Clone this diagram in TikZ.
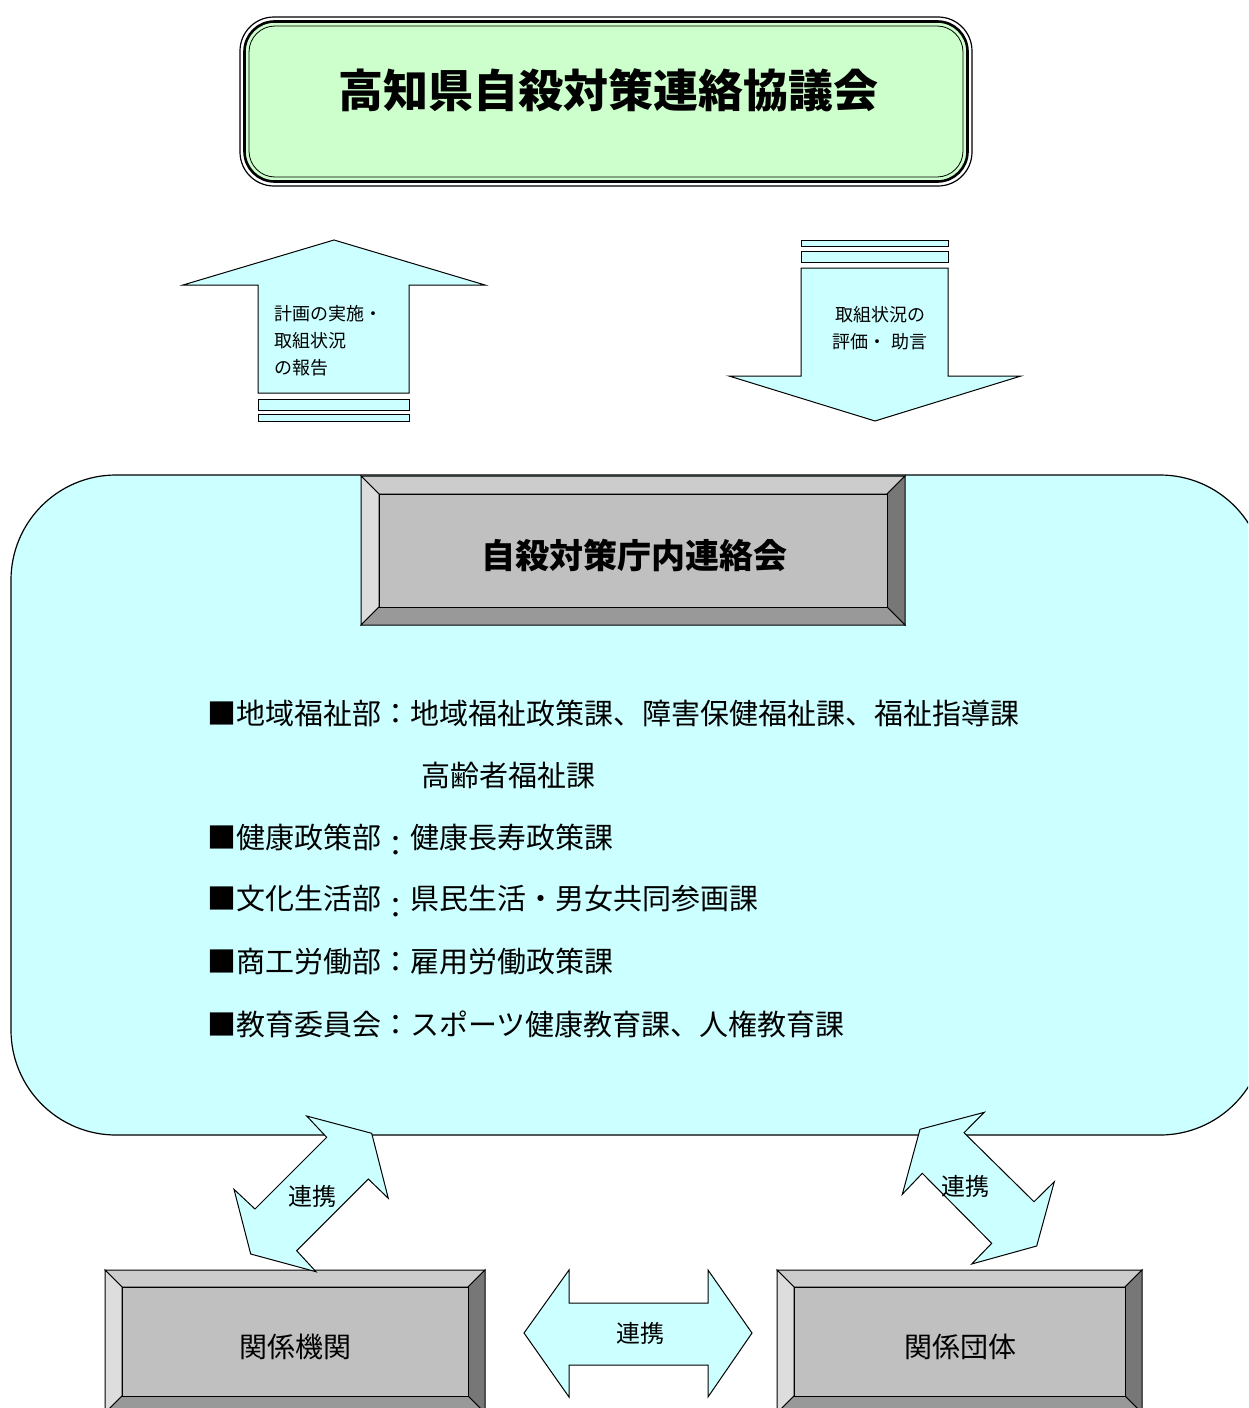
\documentclass[tikz,border=0pt]{standalone}
\usepackage{fontspec}
\setmainfont{Noto Sans CJK JP}
\definecolor{lightcyan}{HTML}{CCFFFF}
\definecolor{palegreen}{HTML}{CCFFCC}
\definecolor{bevtop}{HTML}{CCCCCC}
\definecolor{bevleft}{HTML}{DDDDDD}
\definecolor{bevright}{HTML}{777777}
\definecolor{bevbottom}{HTML}{999999}
\definecolor{bevface}{HTML}{C0C0C0}
\newcommand{\fsz}[2]{\fontsize{#1}{#2}\selectfont}
\newcommand{\lowcolon}{\smash{\raisebox{-0.3em}{：}}}
\newcommand{\bevelbox}[5]{%
  \filldraw[bevel,fill=bevtop] (#1,#2) -- (#3,#2) -- ({#3-#5},{#2+#5}) -- ({#1+#5},{#2+#5}) -- cycle;
  \filldraw[bevel,fill=bevleft] (#1,#2) -- ({#1+#5},{#2+#5}) -- ({#1+#5},{#4-#5}) -- (#1,#4) -- cycle;
  \filldraw[bevel,fill=bevright] (#3,#2) -- (#3,#4) -- ({#3-#5},{#4-#5}) -- ({#3-#5},{#2+#5}) -- cycle;
  \filldraw[bevel,fill=bevbottom] (#1,#4) -- ({#1+#5},{#4-#5}) -- ({#3-#5},{#4-#5}) -- (#3,#4) -- cycle;
  \filldraw[bevel,fill=bevface] ({#1+#5},{#2+#5}) rectangle ({#3-#5},{#4-#5});}

\begin{document}
\begin{tikzpicture}[x=1pt,y=-1pt,line join=miter,
    arrowfill/.style={fill=lightcyan,draw=black,line width=1pt},
    bevel/.style={draw=black,line width=1pt},
    listitem/.style={anchor=west,inner sep=0pt,font=\fsz{29}{29}}]
  \clip (0,0) rectangle (1248,1408);
  \draw[line width=1.2pt,rounded corners=34pt] (240,17) rectangle (972,186);
  \draw[line width=2.6pt,rounded corners=30pt,fill=palegreen] (244.5,21.5) rectangle (967.5,181.5);
  \draw[line width=0.8pt,rounded corners=26pt] (249,26) rectangle (963,177);
  \node[font=\fsz{45}{54}\bfseries] (council) at (608,90) {高知県自殺対策連絡協議会};

  \filldraw[arrowfill] (334,240) -- (485,285) -- (409,285) -- (409,393) -- (258,393) -- (258,285) -- (183,285) -- cycle;
  \filldraw[arrowfill] (258,399) rectangle (409,410);
  \filldraw[arrowfill] (258,414) rectangle (409,421);
  \node[anchor=west,align=left,font=\fsz{18}{27},inner sep=0pt] (report) at (274,341) {計画の実施・\\取組状況\\の報告};

  \filldraw[arrowfill] (801,240) rectangle (948,246);
  \filldraw[arrowfill] (801,251) rectangle (948,262);
  \filldraw[arrowfill] (801,268) -- (948,268) -- (948,376) -- (1021,376) -- (875,421) -- (729,376) -- (801,376) -- cycle;
  \node[align=center,font=\fsz{18}{27},inner sep=0pt] (advice) at (880,328) {取組状況の\\評価・ 助言};

  \filldraw[fill=lightcyan,draw=black,line width=1.2pt,rounded corners=105pt] (11,475) rectangle (1265,1135);
  \bevelbox{361}{476}{905}{625}{18}
  \node[font=\fsz{34}{34}\bfseries] (liaison) at (634,555) {自殺対策庁内連絡会};

  \node[listitem] (welfare) at (207,713) {■地域福祉部：地域福祉政策課、障害保健福祉課、福祉指導課};
  \node[listitem] (elderly) at (421,775) {高齢者福祉課};
  \node[listitem] (health) at (207,837) {■健康政策部\lowcolon 健康長寿政策課};
  \node[listitem] (culture) at (207,899) {■文化生活部\lowcolon 県民生活・男女共同参画課};
  \node[listitem] (labour) at (207,961) {■商工労働部：雇用労働政策課};
  \node[listitem] (education) at (207,1024) {■教育委員会：スポーツ健康教育課、人権教育課};

  \bevelbox{105}{1270}{485}{1413}{17}
  \node[font=\fsz{28}{28}] (agencies) at (295,1347) {関係機関};
  \bevelbox{777}{1270}{1142}{1413}{17}
  \node[font=\fsz{28}{28}] (groups) at (960,1347) {関係団体};

  \filldraw[arrowfill] (306.7,1116) -- (371.7,1133.3) -- (388.3,1198.3) -- (368.3,1179) -- (296.7,1250.7) -- (316,1271.7) -- (250.7,1254) -- (234,1189.3) -- (255,1209) -- (326.7,1137.3) -- cycle;
  \node[font=\fsz{24}{24}] (linkleft) at (312,1196) {連携};
  \filldraw[arrowfill] (984.3,1112.3) -- (920,1129.3) -- (902.3,1194.3) -- (922.3,1173.3) -- (991.7,1243.3) -- (971.7,1264) -- (1036.7,1246) -- (1054.3,1181.7) -- (1034,1201.7) -- (964,1132.7) -- cycle;
  \node[font=\fsz{24}{24}] (linkright) at (965,1186) {連携};
  \filldraw[arrowfill] (524,1333) -- (569,1270) -- (569,1303) -- (708,1303) -- (708,1270) -- (752,1333) -- (708,1397) -- (708,1365) -- (569,1365) -- (569,1397) -- cycle;
  \node[font=\fsz{24}{24}] (linkmid) at (640,1333) {連携};
\end{tikzpicture}
\end{document}
